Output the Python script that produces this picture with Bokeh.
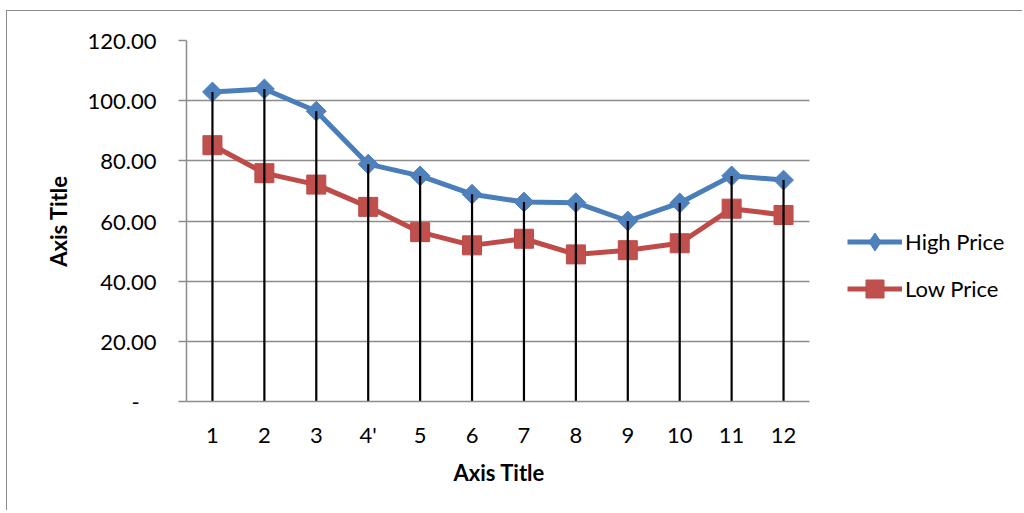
from bokeh.plotting import figure
from bokeh.models import Range1d, FixedTicker, Legend, LegendItem, BoxAnnotation, Title
from bokeh.embed import file_html
from bokeh.resources import INLINE

categories = ["1", "2", "3", "4'", "5", "6", "7", "8", "9", "10", "11", "12"]
high_price = [102.9, 103.9, 96.5, 78.9, 75.0, 68.9, 66.3, 66.1, 60.0, 66.0, 75.0, 73.6]
low_price = [85.2, 75.9, 72.1, 64.7, 56.3, 51.9, 54.1, 48.9, 50.3, 52.6, 64.1, 62.0]
y_ticks = [0, 20, 40, 60, 80, 100, 120]
y_tick_labels = ["-\u00a0\u00a0\u00a0", "20.00", "40.00", "60.00", "80.00", "100.00", "120.00"]

FONT = "Lato"
GRAY = "#8c8c8c"

# category positions (1..n) on a numeric axis
x_pos = list(range(1, len(categories) + 1))
x_lo, x_hi = 0.5, len(categories) + 0.5

W, H = 1016, 500
LEFT, RIGHT, TOP, BOTTOM = 179, 8, 29, 110
unit_px = 623 / len(categories)              # width of one category band in px
x_end = x_lo + (W - LEFT - RIGHT) / unit_px  # frame extends to the right for the legend

p = figure(width=W, height=H, output_backend="svg", toolbar_location=None,
           x_range=Range1d(x_lo, x_end), y_range=Range1d(0, 120),
           min_border_left=LEFT, min_border_right=RIGHT, min_border_top=TOP, min_border_bottom=BOTTOM)
p.outline_line_color = None
p.background_fill_color = "white"
p.border_fill_color = "white"
p.styles = {"margin-left": "6px", "margin-top": "10px",
            "border-top": "1.5px solid #8c8c8c", "border-left": "1.5px solid #8c8c8c"}

# grid
p.xgrid.grid_line_color = None
p.ygrid.ticker = FixedTicker(ticks=y_ticks)
p.ygrid.grid_line_color = GRAY
p.ygrid.grid_line_width = 1.5
try:
    p.ygrid.cross_bounds = (x_lo, x_hi)
except Exception:
    p.add_layout(BoxAnnotation(left=x_hi, fill_color="white", fill_alpha=1,
                               line_alpha=0, level="underlay"))

# y axis
p.yaxis.ticker = FixedTicker(ticks=y_ticks)
p.yaxis.major_label_overrides = dict(zip(y_ticks, y_tick_labels))
p.yaxis.major_tick_out = 8
p.yaxis.major_tick_in = 0
p.yaxis.minor_tick_line_color = None
p.yaxis.major_tick_line_color = GRAY
p.yaxis.major_tick_line_width = 1.5
p.yaxis.axis_line_color = GRAY
p.yaxis.axis_line_width = 1.5
p.yaxis.major_label_standoff = 22
p.yaxis.axis_label = "Axis Title"
p.yaxis.axis_label_standoff = 13

# x axis
p.xaxis.ticker = FixedTicker(ticks=x_pos)
p.xaxis.major_label_overrides = dict(zip(x_pos, categories))
p.xaxis.bounds = (x_lo, x_hi)
p.xaxis.major_tick_line_color = None
p.xaxis.minor_tick_line_color = None
p.xaxis.axis_line_color = GRAY
p.xaxis.axis_line_width = 1.5
p.xaxis.major_label_standoff = 13

for ax in (p.xaxis[0], p.yaxis[0]):
    ax.major_label_text_font = FONT
    ax.major_label_text_font_size = "22px"
    ax.major_label_text_color = "black"
    ax.axis_label_text_font = FONT
    ax.axis_label_text_font_size = "22px"
    ax.axis_label_text_font_style = "bold"
    ax.axis_label_text_color = "black"

# x axis title, centred under the category area (not the whole frame)
p.add_layout(Title(text="Axis Title", align="left", offset=267, standoff=13,
                   text_font=FONT, text_font_size="22px", text_font_style="bold",
                   text_color="black"), "below")

# series
hl = p.line(x_pos, high_price, line_color="#4A7EBB", line_width=5)
hm = p.scatter(x_pos, high_price, marker="square", angle=0.785398, size=14,
               fill_color="#4F81BD", line_color="#4A7EBB", line_width=1)
ll = p.line(x_pos, low_price, line_color="#BE4B48", line_width=5)
lm = p.scatter(x_pos, low_price, marker="square", size=19,
               fill_color="#C0504D", line_color="#BE4B48", line_width=1)

# drop lines
p.segment(x0=x_pos, y0=0, x1=x_pos, y1=high_price, line_color="black", line_width=2.2)

# diamond used for the legend entry only
hm_leg = p.scatter(x_pos, high_price, marker="diamond", size=18, visible=False,
                   fill_color="#4F81BD", line_color="#4A7EBB", line_width=1)

legend = Legend(items=[LegendItem(label="High Price", renderers=[hl, hm_leg]),
                       LegendItem(label="Low Price", renderers=[ll, lm])],
                location=(661, 90), orientation="vertical", click_policy="none",
                glyph_width=55, glyph_height=45, label_height=45, spacing=2,
                label_standoff=3, padding=0, margin=0,
                border_line_color=None, background_fill_alpha=0,
                label_text_font=FONT, label_text_font_size="22px", label_text_color="black")
p.add_layout(legend, "center")

open("out.html", "w").write(file_html(p, INLINE))
